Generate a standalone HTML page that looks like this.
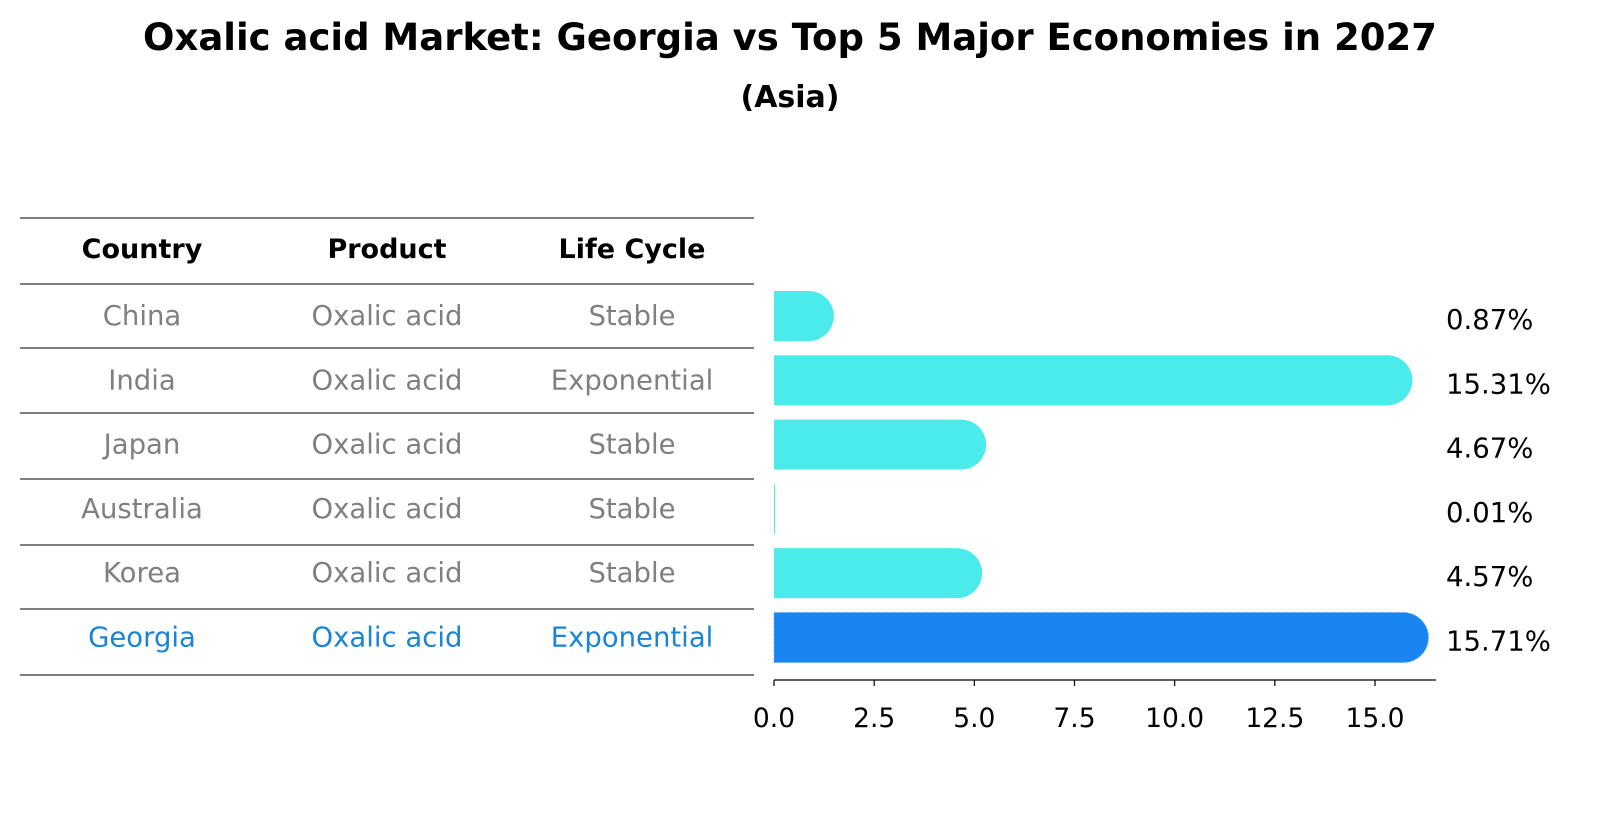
<!DOCTYPE html>
<html><head><meta charset="utf-8"><style>
html,body{margin:0;padding:0;background:#fff;overflow:hidden;width:1604px;height:823px;}
svg{display:block;}
</style></head><body>
<svg id="c" width="1604" height="823" viewBox="0 0 1604 823" xmlns="http://www.w3.org/2000/svg" font-family="DejaVu Sans, Liberation Sans, sans-serif">
<text x="790" y="50" text-anchor="middle" font-size="37" font-weight="bold">Oxalic acid Market: Georgia vs Top 5 Major Economies in 2027</text>
<text x="790" y="107" text-anchor="middle" font-size="30" font-weight="bold">(Asia)</text>
<g id="tbl"></g>
<g id="bars"></g>
</svg>
<script>
const countries=["China","India","Japan","Australia","Korea","Georgia"];
const products=["Oxalic acid","Oxalic acid","Oxalic acid","Oxalic acid","Oxalic acid","Oxalic acid"];
const lifeCycles=["Stable","Exponential","Stable","Stable","Stable","Exponential"];
const values=[0.87,15.31,4.67,0.01,4.57,15.71];
const ticks=[0,2.5,5,7.5,10,12.5,15];
const headers=["Country","Product","Life Cycle"];
const NS="http://www.w3.org/2000/svg";
const tbl=document.getElementById('tbl'),bg=document.getElementById('bars');
function el(t,a,p,txt){const e=document.createElementNS(NS,t);for(const k in a)e.setAttribute(k,a[k]);if(txt!==undefined)e.textContent=txt;p.appendChild(e);return e;}
const x0=774,xs=(1375-774)/15;const X=v=>x0+v*xs;
const rowY=i=>316+i*64.3;
const colX=[142,387,632];
const lines=[218,284,348,413,479,545,609,675];
lines.forEach(y=>{const l=el('line',{x1:20,x2:754,y1:y,y2:y,stroke:'#000','stroke-width':1},tbl);

});
headers.forEach((h,j)=>{const t=el('text',{x:colX[j],y:258,'text-anchor':'middle','font-size':27,'font-weight':'bold'},tbl,h);

});
countries.forEach((c,i)=>{const col=i===5?'#1a85d6':'#808080';
[c,products[i],lifeCycles[i]].forEach((s,j)=>{const t=el('text',{x:colX[j],y:rowY(i)+9,'text-anchor':'middle','font-size':27.5,fill:col},tbl,s);

});
const isG=i===5,fill=isG?'#1a85f0':'#4aebea',cy=rowY(i),h=50,r=25;
const g=el('g',{},bg);


const w=Math.max(X(values[i])-x0,1);
el('rect',{x:x0,y:cy-h/2,width:w,height:h,fill:fill},g);
if(values[i]>0.1)el('circle',{cx:X(values[i]),cy:cy,r:r,fill:fill},g);
if(isG){el('path',{d:`M${x0} ${cy-h/2}H${X(values[i])}A${r} ${r} 0 0 1 ${X(values[i])} ${cy+h/2}H${x0}Z`,fill:'none',stroke:'#5aa8f5','stroke-width':1,'stroke-dasharray':'2 2'},g);}
const lt=el('text',{x:1446,y:cy+13,'font-size':27.5,fill:'#000'},bg,values[i].toFixed(2)+'%');


});
const ax=el('line',{x1:x0,x2:1436,y1:680,y2:680,stroke:'#000','stroke-width':1.2},bg);


ticks.forEach(v=>{const tk=el('line',{x1:X(v),x2:X(v),y1:680,y2:686,stroke:'#000','stroke-width':1.2},bg);


const tl=el('text',{x:X(v),y:727,'text-anchor':'middle','font-size':26.5},bg,v.toFixed(1));

});
</script>
</body></html>
